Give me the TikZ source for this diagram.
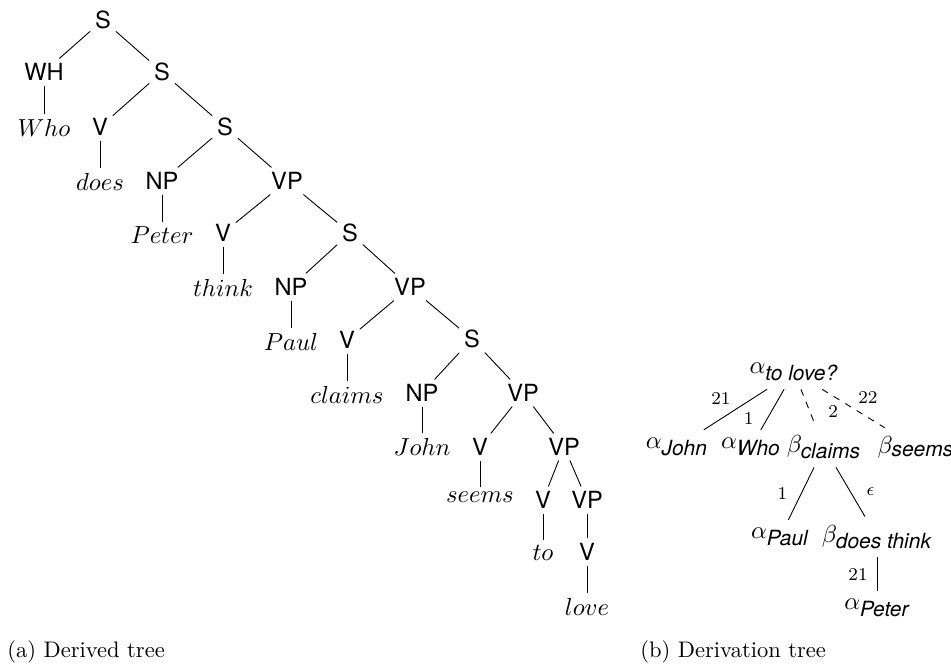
\documentclass[tikz,border=0pt]{standalone}
\usepackage{fontspec}
\setsansfont{TeX Gyre Heros}
\tikzset{
    cat/.style={font=\fontsize{10.5}{12}\sffamily, inner sep=2pt},
    word/.style={font=\fontsize{10.5}{12}\selectfont, inner sep=2pt},
    elem/.style={font=\fontsize{11}{13}\selectfont, inner sep=3.5pt},
    edge/.style={-, draw=black},
    dedge/.style={-, dashed, draw=black},
    lbl/.style={font=\footnotesize, inner sep=2pt},
    capt/.style={font=\fontsize{10}{12}\selectfont, anchor=west, inner sep=0pt},
}
\newcommand{\tree}[2]{$#1_{\mbox{\fontsize{9.3}{11}\sffamily\itshape #2}}$}

\begin{document}
\begin{tikzpicture}[x=0.4444pt, y=-0.4444pt]
    \useasboundingbox (0,0) rectangle (951,666);
    % derived tree
    \node[cat] (s0) at (103,20) {S};
    \node[cat] (wh) at (44,72) {WH};
    \node[cat] (s1) at (162,72) {S};
    \node[word] (who) at (44,128) {$Who$};
    \node[cat] (v1) at (100,127) {V};
    \node[cat] (s2) at (225,127) {S};
    \node[word] (does) at (100,182) {$does$};
    \node[cat] (np1) at (162,181) {NP};
    \node[cat] (vp1) at (287,181) {VP};
    \node[word] (peter) at (162,235) {$Peter$};
    \node[cat] (v2) at (223,233) {V};
    \node[cat] (s3) at (350,233) {S};
    \node[word] (think) at (223,288) {$think$};
    \node[cat] (np2) at (291,287) {NP};
    \node[cat] (vp2) at (410,287) {VP};
    \node[word] (paul) at (291,342) {$Paul$};
    \node[cat] (v3) at (347,340) {V};
    \node[cat] (s4) at (472,339) {S};
    \node[word] (claims) at (347,395) {$claims$};
    \node[cat] (np3) at (422,393) {NP};
    \node[cat] (vp3) at (523,393) {VP};
    \node[word] (john) at (422,447) {$John$};
    \node[cat] (v4) at (480,447) {V};
    \node[cat] (vp4) at (564,447) {VP};
    \node[word] (seems) at (480,497) {$seems$};
    \node[cat] (v5) at (543,500) {V};
    \node[cat] (vp5) at (587,500) {VP};
    \node[word] (to) at (543,553) {$to$};
    \node[cat] (v6) at (587,552) {V};
    \node[word] (love) at (587,607) {$love$};
    \draw[edge] (s0) -- (wh);
    \draw[edge] (s0) -- (s1);
    \draw[edge] (wh) -- (who);
    \draw[edge] (s1) -- (v1);
    \draw[edge] (s1) -- (s2);
    \draw[edge] (v1) -- (does);
    \draw[edge] (s2) -- (np1);
    \draw[edge] (s2) -- (vp1);
    \draw[edge] (np1) -- (peter);
    \draw[edge] (vp1) -- (v2);
    \draw[edge] (vp1) -- (s3);
    \draw[edge] (v2) -- (think);
    \draw[edge] (s3) -- (np2);
    \draw[edge] (s3) -- (vp2);
    \draw[edge] (np2) -- (paul);
    \draw[edge] (vp2) -- (v3);
    \draw[edge] (vp2) -- (s4);
    \draw[edge] (v3) -- (claims);
    \draw[edge] (s4) -- (np3);
    \draw[edge] (s4) -- (vp3);
    \draw[edge] (np3) -- (john);
    \draw[edge] (vp3) -- (v4);
    \draw[edge] (vp3) -- (vp4);
    \draw[edge] (v4) -- (seems);
    \draw[edge] (vp4) -- (v5);
    \draw[edge] (vp4) -- (vp5);
    \draw[edge] (v5) -- (to);
    \draw[edge] (vp5) -- (v6);
    \draw[edge] (v6) -- (love);
    % derivation tree
    \node[elem] (atolove) at (794,372) {\tree{\alpha}{to love?}};
    \node[elem] (ajohn) at (677,447) {\tree{\alpha}{John}};
    \node[elem] (awho) at (751,447) {\tree{\alpha}{Who}};
    \node[elem] (bclaims) at (824,447) {\tree{\beta}{claims}};
    \node[elem] (bseems) at (916,447) {\tree{\beta}{seems}};
    \node[elem] (apaul) at (780,537) {\tree{\alpha}{Paul}};
    \node[elem] (bdoes) at (877,537) {\tree{\beta}{does think}};
    \node[elem] (apeter) at (877,608) {\tree{\alpha}{Peter}};
    \draw[edge] (atolove) -- node[lbl, above left] {21} (ajohn);
    \draw[edge] (atolove) -- node[lbl, left=4pt, pos=0.72] {1} (awho);
    \draw[dedge] (atolove) -- node[lbl, right=6pt, pos=0.6] {2} (bclaims);
    \draw[dedge] (atolove) -- node[lbl, above right] {22} (bseems);
    \draw[edge] (bclaims) -- node[lbl, left=4pt] {1} (apaul);
    \draw[edge] (bclaims) -- node[lbl, right=5pt] {$\epsilon$} (bdoes);
    \draw[edge] (bdoes) -- node[lbl, left=2pt] {21} (apeter);
    % captions
    \node[capt] (capa) at (7,652) {(a)\ Derived tree};
    \node[capt] (capb) at (640,652) {(b)\ Derivation tree};
\end{tikzpicture}
\end{document}
